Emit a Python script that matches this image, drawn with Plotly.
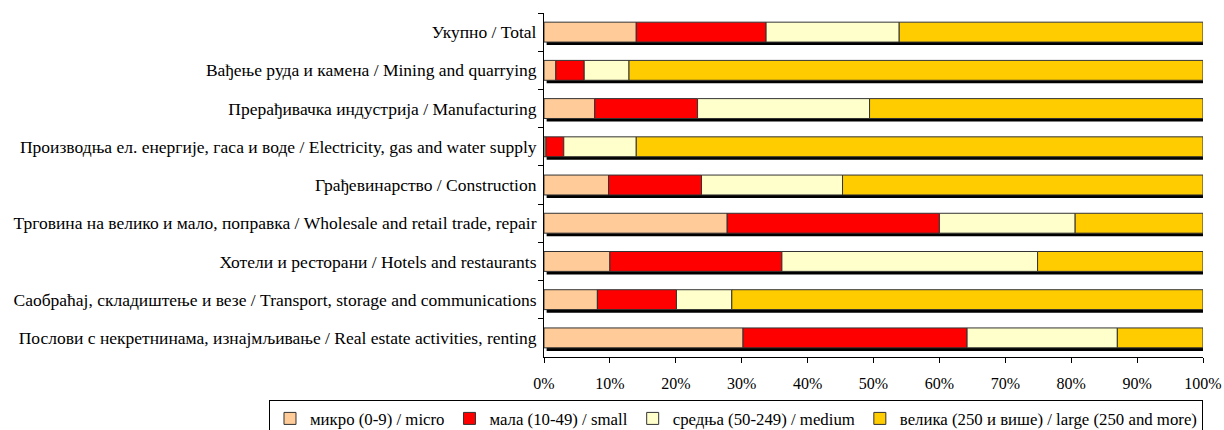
import plotly.graph_objects as go

categories = [
    "Укупно / Total",
    "Вађење руда и камена / Mining and quarrying",
    "Прерађивачка индустрија / Manufacturing",
    "Производња ел. енергије, гаса и воде / Electricity, gas and water supply",
    "Грађевинарство / Construction",
    "Трговина на велико и мало, поправка / Wholesale and retail trade, repair",
    "Хотели и ресторани / Hotels and restaurants",
    "Саобраћај, складиштење и везе / Transport, storage and communications",
    "Послови с некретнинама, изнајмљивање / Real estate activities, renting",
]

micro = [14.0, 1.8, 7.7, 0.3, 9.8, 27.8, 10.0, 8.1, 30.2]
small = [19.7, 4.3, 15.6, 2.7, 14.1, 32.2, 26.1, 12.0, 34.0]
medium = [20.2, 6.8, 26.1, 11.0, 21.4, 20.6, 38.8, 8.4, 22.8]
large = [46.1, 87.1, 50.6, 86.0, 54.7, 19.4, 25.1, 71.5, 13.0]

series_names = [
    "микро (0-9) / micro",
    "мала (10-49) / small",
    "средња (50-249) / medium",
    "велика (250 и више) / large (250 and more)",
]
series_values = [micro, small, medium, large]
colors = ["#FFCC99", "#FF0000", "#FFFFCC", "#FFCC00"]

tick_vals = list(range(0, 101, 10))
tick_text = [f"{v}%" for v in tick_vals]

FONT = "Liberation Serif, Times New Roman, serif"
BAR_W = 0.52

fig = go.Figure()

# shadow behind each bar
totals = [sum(s[i] for s in series_values) for i in range(len(categories))]
fig.add_trace(go.Bar(
    y=categories, x=totals, base=0.4, orientation="h",
    width=BAR_W, offset=-BAR_W / 2 + 0.08,
    marker=dict(color="#000000", line=dict(width=0)),
    showlegend=False, hoverinfo="skip", cliponaxis=False,
))

cum = [0.0] * len(categories)
for name, vals, col in zip(series_names, series_values, colors):
    fig.add_trace(go.Bar(
        y=categories, x=vals, base=list(cum), orientation="h",
        name=name, width=BAR_W, offset=-BAR_W / 2,
        marker=dict(color=col, line=dict(color="#333333", width=1)),
        cliponaxis=False,
    ))
    cum = [c + v for c, v in zip(cum, vals)]

# figure is a bit taller than the 430px window so the legend box can run
# past the bottom edge (as in the reference) without squeezing the plot
fig.update_layout(
    width=1224, height=460,
    barmode="overlay",
    paper_bgcolor="white", plot_bgcolor="white",
    margin=dict(l=544, r=21, t=13, b=103),
    font=dict(family=FONT, size=16, color="#000000"),
    xaxis=dict(
        range=[0, 100], tickvals=tick_vals, ticktext=tick_text,
        showgrid=False, zeroline=False, automargin=False,
        showline=True, linecolor="#000000", linewidth=1,
        ticks="outside", ticklen=5, tickcolor="#000000",
        tickfont=dict(size=16), ticklabelstandoff=7,
    ),
    yaxis=dict(
        categoryorder="array", categoryarray=categories,
        autorange="reversed", automargin=False,
        showgrid=False, zeroline=False,
        showline=True, linecolor="#000000", linewidth=1,
        ticks="outside", ticklen=5, tickcolor="#000000",
        tickson="boundaries",
        tickfont=dict(size=17.5), ticklabelstandoff=3,
    ),
    legend=dict(
        orientation="h",
        x=-0.4173, xanchor="left", y=-0.125, yanchor="top",
        bordercolor="#000000", borderwidth=1,
        font=dict(size=16.8), itemwidth=30,
        traceorder="normal",
    ),
)

fig.write_html(
    "out.html",
    config={"displayModeBar": False},
    post_script=(
        "document.body.style.margin='0px';"
        "document.body.style.overflow='hidden';"
        "document.documentElement.style.overflow='hidden';"
    ),
)
